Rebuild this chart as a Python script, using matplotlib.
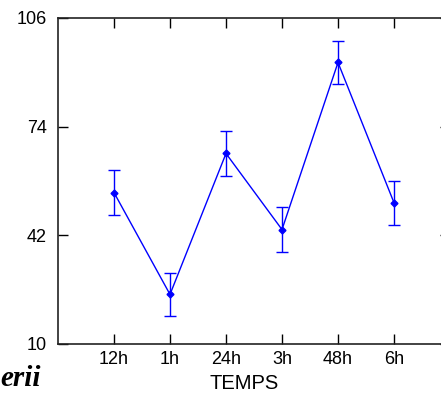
import numpy as np
import matplotlib
matplotlib.use("Agg")
import matplotlib.pyplot as plt

temps = ["12h", "1h", "24h", "3h", "48h", "6h"]
moyennes = [54.6, 24.6, 66.1, 43.7, 92.9, 51.6]
erreurs = [6.5, 6.4, 6.6, 6.6, 6.4, 6.5]
yticks = [10, 42, 74, 106]

plt.rcParams['font.family'] = ['Liberation Sans', 'DejaVu Sans']

fig = plt.figure(figsize=(4.41, 3.98), dpi=100)
ax = fig.add_axes([58/441, 1-344/398, 392/441, 326/398])

x = np.arange(1, len(temps)+1)
ax.errorbar(x, moyennes, yerr=erreurs, color='blue', lw=1, marker='D', ms=3.5,
            capsize=4, elinewidth=1, capthick=1)

ax.set_xlim(0, 7)
ax.set_ylim(10, 106)
ax.set_xticks(x)
ax.set_xticklabels(temps)
ax.set_yticks(yticks)
ax.tick_params(direction='in', length=7, width=1, labelsize=13, top=True, right=True, pad=5)
ax.tick_params(axis='y', pad=8)
for s in ax.spines.values():
    s.set_linewidth(1.2)
    s.set_color('#222222')

ax.set_xlabel("TEMPS", fontsize=14.5)
ax.xaxis.set_label_coords((244-58)/392, -0.093)

fig.text(0.0, 1-378/398, "erii", fontsize=21, family='Liberation Serif',
         fontweight='bold', style='italic', va='center', ha='left')

fig.savefig("out.png", dpi=100)
